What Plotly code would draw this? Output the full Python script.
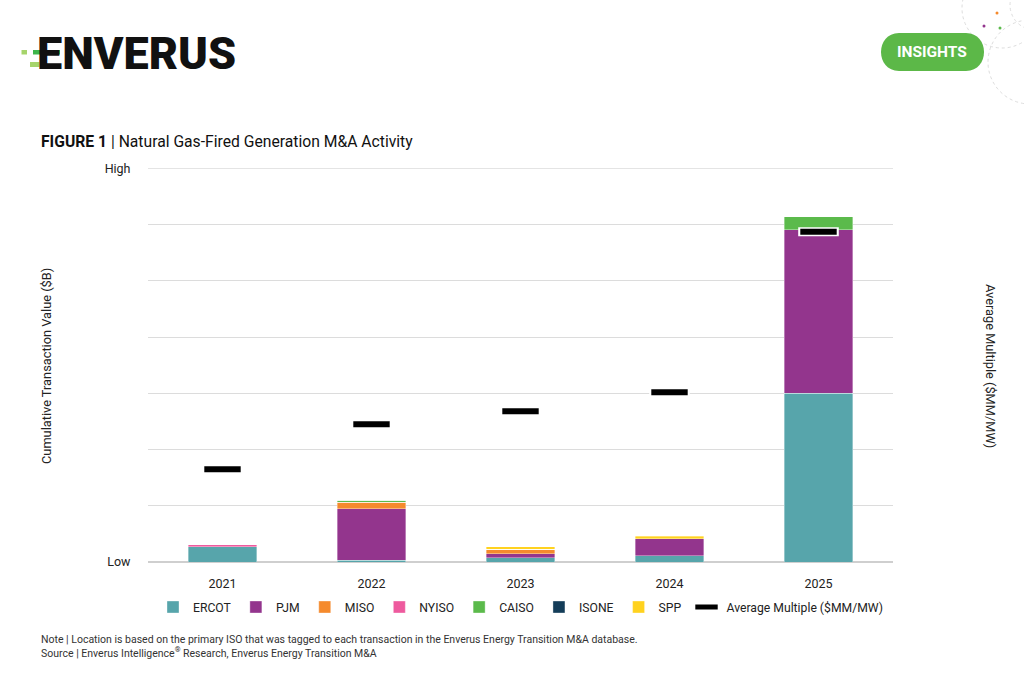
import plotly.graph_objects as go

# ---------------- data ----------------
years = ["2021", "2022", "2023", "2024", "2025"]
ercot = [0.27, 0.03, 0.08, 0.11, 3.00]
pjm = [0.00, 0.92, 0.07, 0.30, 2.91]
miso = [0.00, 0.11, 0.08, 0.00, 0.00]
nyiso = [0.035, 0.00, 0.00, 0.00, 0.00]
caiso = [0.00, 0.04, 0.00, 0.00, 0.23]
isone = [0.00, 0.00, 0.00, 0.00, 0.00]
spp = [0.00, 0.00, 0.04, 0.05, 0.00]
avg_multiple = [1.65, 2.45, 2.68, 3.02, 5.87]

y_label_ticks = [0, 7]
y_tick_labels = ["Low", "High"]
y_grid_ticks = [1, 2, 3, 4, 5, 6]
y_top = 7

series = [
    ("ERCOT", ercot, "#57A5AB"),
    ("PJM", pjm, "#93358D"),
    ("MISO", miso, "#F58A2C"),
    ("NYISO", nyiso, "#EE5A9E"),
    ("CAISO", caiso, "#5BBA4B"),
    ("ISONE", isone, "#143D59"),
    ("SPP", spp, "#FFD21F"),
]

FONT = "Roboto"
W, H = 1024, 683
L, R, T, B = 148, 893, 168, 562


def px(x):
    return (x - L) / (R - L)


def py(y):
    return (B - y) / (B - T)


fig = go.Figure()
for name, vals, col in series:
    fig.add_trace(go.Bar(
        x=years, y=vals, name=name, width=0.46,
        marker=dict(color=col, line=dict(color="rgba(255,255,255,0.6)", width=0.6)),
        yaxis="y",
    ))

fig.add_trace(go.Scatter(
    x=years, y=avg_multiple, mode="markers", showlegend=False, hoverinfo="skip",
    marker=dict(symbol="line-ew", size=29, line=dict(color="white", width=9)),
    yaxis="y2",
))
fig.add_trace(go.Scatter(
    x=years, y=avg_multiple, mode="markers", name="Average Multiple ($MM/MW)",
    marker=dict(symbol="line-ew", size=26, color="black", line=dict(color="black", width=6)),
    yaxis="y2",
))

shapes = []
# top gridline at the "High" tick
shapes.append(dict(type="line", xref="paper", yref="y", x0=0, x1=1, y0=y_top, y1=y_top,
                   line=dict(color="#DCDCDC", width=1), layer="below"))
# logo green bits
shapes.append(dict(type="rect", xref="paper", yref="paper", x0=px(21.5), x1=px(27), y0=py(54.5), y1=py(50),
                   fillcolor="#A6D46B", line=dict(width=0), layer="above"))
shapes.append(dict(type="rect", xref="paper", yref="paper", x0=px(30), x1=px(39.5), y0=py(67), y1=py(62),
                   fillcolor="#A6D46B", line=dict(width=0), layer="above"))
shapes.append(dict(type="rect", xref="paper", yref="paper", x0=px(33), x1=px(60), y0=py(54.5), y1=py(50),
                   fillcolor="#3DB54A", line=dict(width=0), layer="above"))
# insights pill
r = 19
x0, x1, y0, y1 = 880, 985, 33, 71
shapes.append(dict(type="path", xref="paper", yref="paper",
                   path=(f"M {px(x0+r)},{py(y0)} L {px(x1-r)},{py(y0)} "
                         f"C {px(x1+5)},{py(y0)} {px(x1+5)},{py(y1)} {px(x1-r)},{py(y1)} "
                         f"L {px(x0+r)},{py(y1)} "
                         f"C {px(x0-5)},{py(y1)} {px(x0-5)},{py(y0)} {px(x0+r)},{py(y0)} Z"),
                   fillcolor="#5CB848", line=dict(width=0)))
# decorative dashed circles
for cx, cy, rad in [(1002, 8, 40), (1030, 62, 42), (1035, 5, 25)]:
    shapes.append(dict(type="circle", xref="paper", yref="paper",
                       x0=px(cx - rad), x1=px(cx + rad), y0=py(cy + rad), y1=py(cy - rad),
                       line=dict(color="#DDDDDD", width=1, dash="dot"), layer="below"))
for cx, cy, col in [(997, 13, "#F58A2C"), (984, 26, "#93358D"), (1000, 28, "#5BBA4B")]:
    shapes.append(dict(type="circle", xref="paper", yref="paper",
                       x0=px(cx - 1.5), x1=px(cx + 1.5), y0=py(cy + 1.5), y1=py(cy - 1.5),
                       fillcolor=col, line=dict(width=0)))

annotations = []
annotations.append(dict(text="ENVERUS", xref="paper", yref="paper", x=px(35), y=py(53),
                        xanchor="left", yanchor="middle", showarrow=False,
                        font=dict(family=FONT, size=45, color="#111111", weight=900)))
annotations.append(dict(text="INSIGHTS", xref="paper", yref="paper", x=px(932), y=py(52),
                        xanchor="center", yanchor="middle", showarrow=False,
                        font=dict(family=FONT, size=15.5, color="white", weight="bold")))
annotations.append(dict(text="<b>FIGURE 1</b> | Natural Gas-Fired Generation M&A Activity",
                        xref="paper", yref="paper", x=px(39), y=py(141),
                        xanchor="left", yanchor="middle", showarrow=False,
                        font=dict(family=FONT, size=15.7, color="#111111")))
annotations.append(dict(text="Cumulative Transaction Value ($B)", xref="paper", yref="paper",
                        x=px(46), y=py(366), textangle=-90, xanchor="center", yanchor="middle",
                        showarrow=False, font=dict(family=FONT, size=12.8, color="#222222")))
annotations.append(dict(text="Average Multiple ($MM/MW)", xref="paper", yref="paper",
                        x=px(991), y=py(366), textangle=90, xanchor="center", yanchor="middle",
                        showarrow=False, font=dict(family=FONT, size=12.8, color="#222222")))
annotations.append(dict(text="Note | Location is based on the primary ISO that was tagged to each transaction in the Enverus Energy Transition M&A database.<br>"
                             "Source | Enverus Intelligence<sup>®</sup> Research, Enverus Energy Transition M&A",
                        xref="paper", yref="paper", x=px(39), y=py(631), align="left",
                        xanchor="left", yanchor="top", showarrow=False,
                        font=dict(family=FONT, size=10.5, color="#333333")))

fig.update_layout(
    width=W, height=H,
    margin=dict(l=L, r=W - R, t=T, b=H - B, pad=0),
    paper_bgcolor="white", plot_bgcolor="white",
    barmode="stack",
    font=dict(family=FONT, size=12, color="#222222"),
    xaxis=dict(showgrid=False, showline=False, ticks="outside", ticklen=10, tickcolor="white",
               tickfont=dict(size=12.5, color="#222222"), zeroline=False),
    yaxis=dict(range=[0, 7.005], tickvals=y_label_ticks, ticktext=y_tick_labels, showgrid=True,
               gridcolor="#DCDCDC", gridwidth=1,
               zeroline=True, zerolinecolor="#CFCFCF", zerolinewidth=1.5, showline=False,
               ticks="outside", ticklen=14, tickcolor="white",
               tickfont=dict(size=12.5, color="#222222"),
               minor=dict(tickvals=y_grid_ticks, showgrid=True, gridcolor="#DCDCDC", gridwidth=1,
                          ticks="")),
    yaxis2=dict(range=[0, 7.005], overlaying="y", side="right", showgrid=False, zeroline=False,
                showticklabels=False, showline=False),
    legend=dict(orientation="h", x=0.5, xanchor="center", y=py(607), yanchor="middle",
                font=dict(family=FONT, size=12.2, color="#222222"), itemwidth=30,
                traceorder="normal", tracegroupgap=0, bgcolor="rgba(0,0,0,0)"),
    shapes=shapes,
    annotations=annotations,
    showlegend=True,
)

fig.write_html("out.html")
